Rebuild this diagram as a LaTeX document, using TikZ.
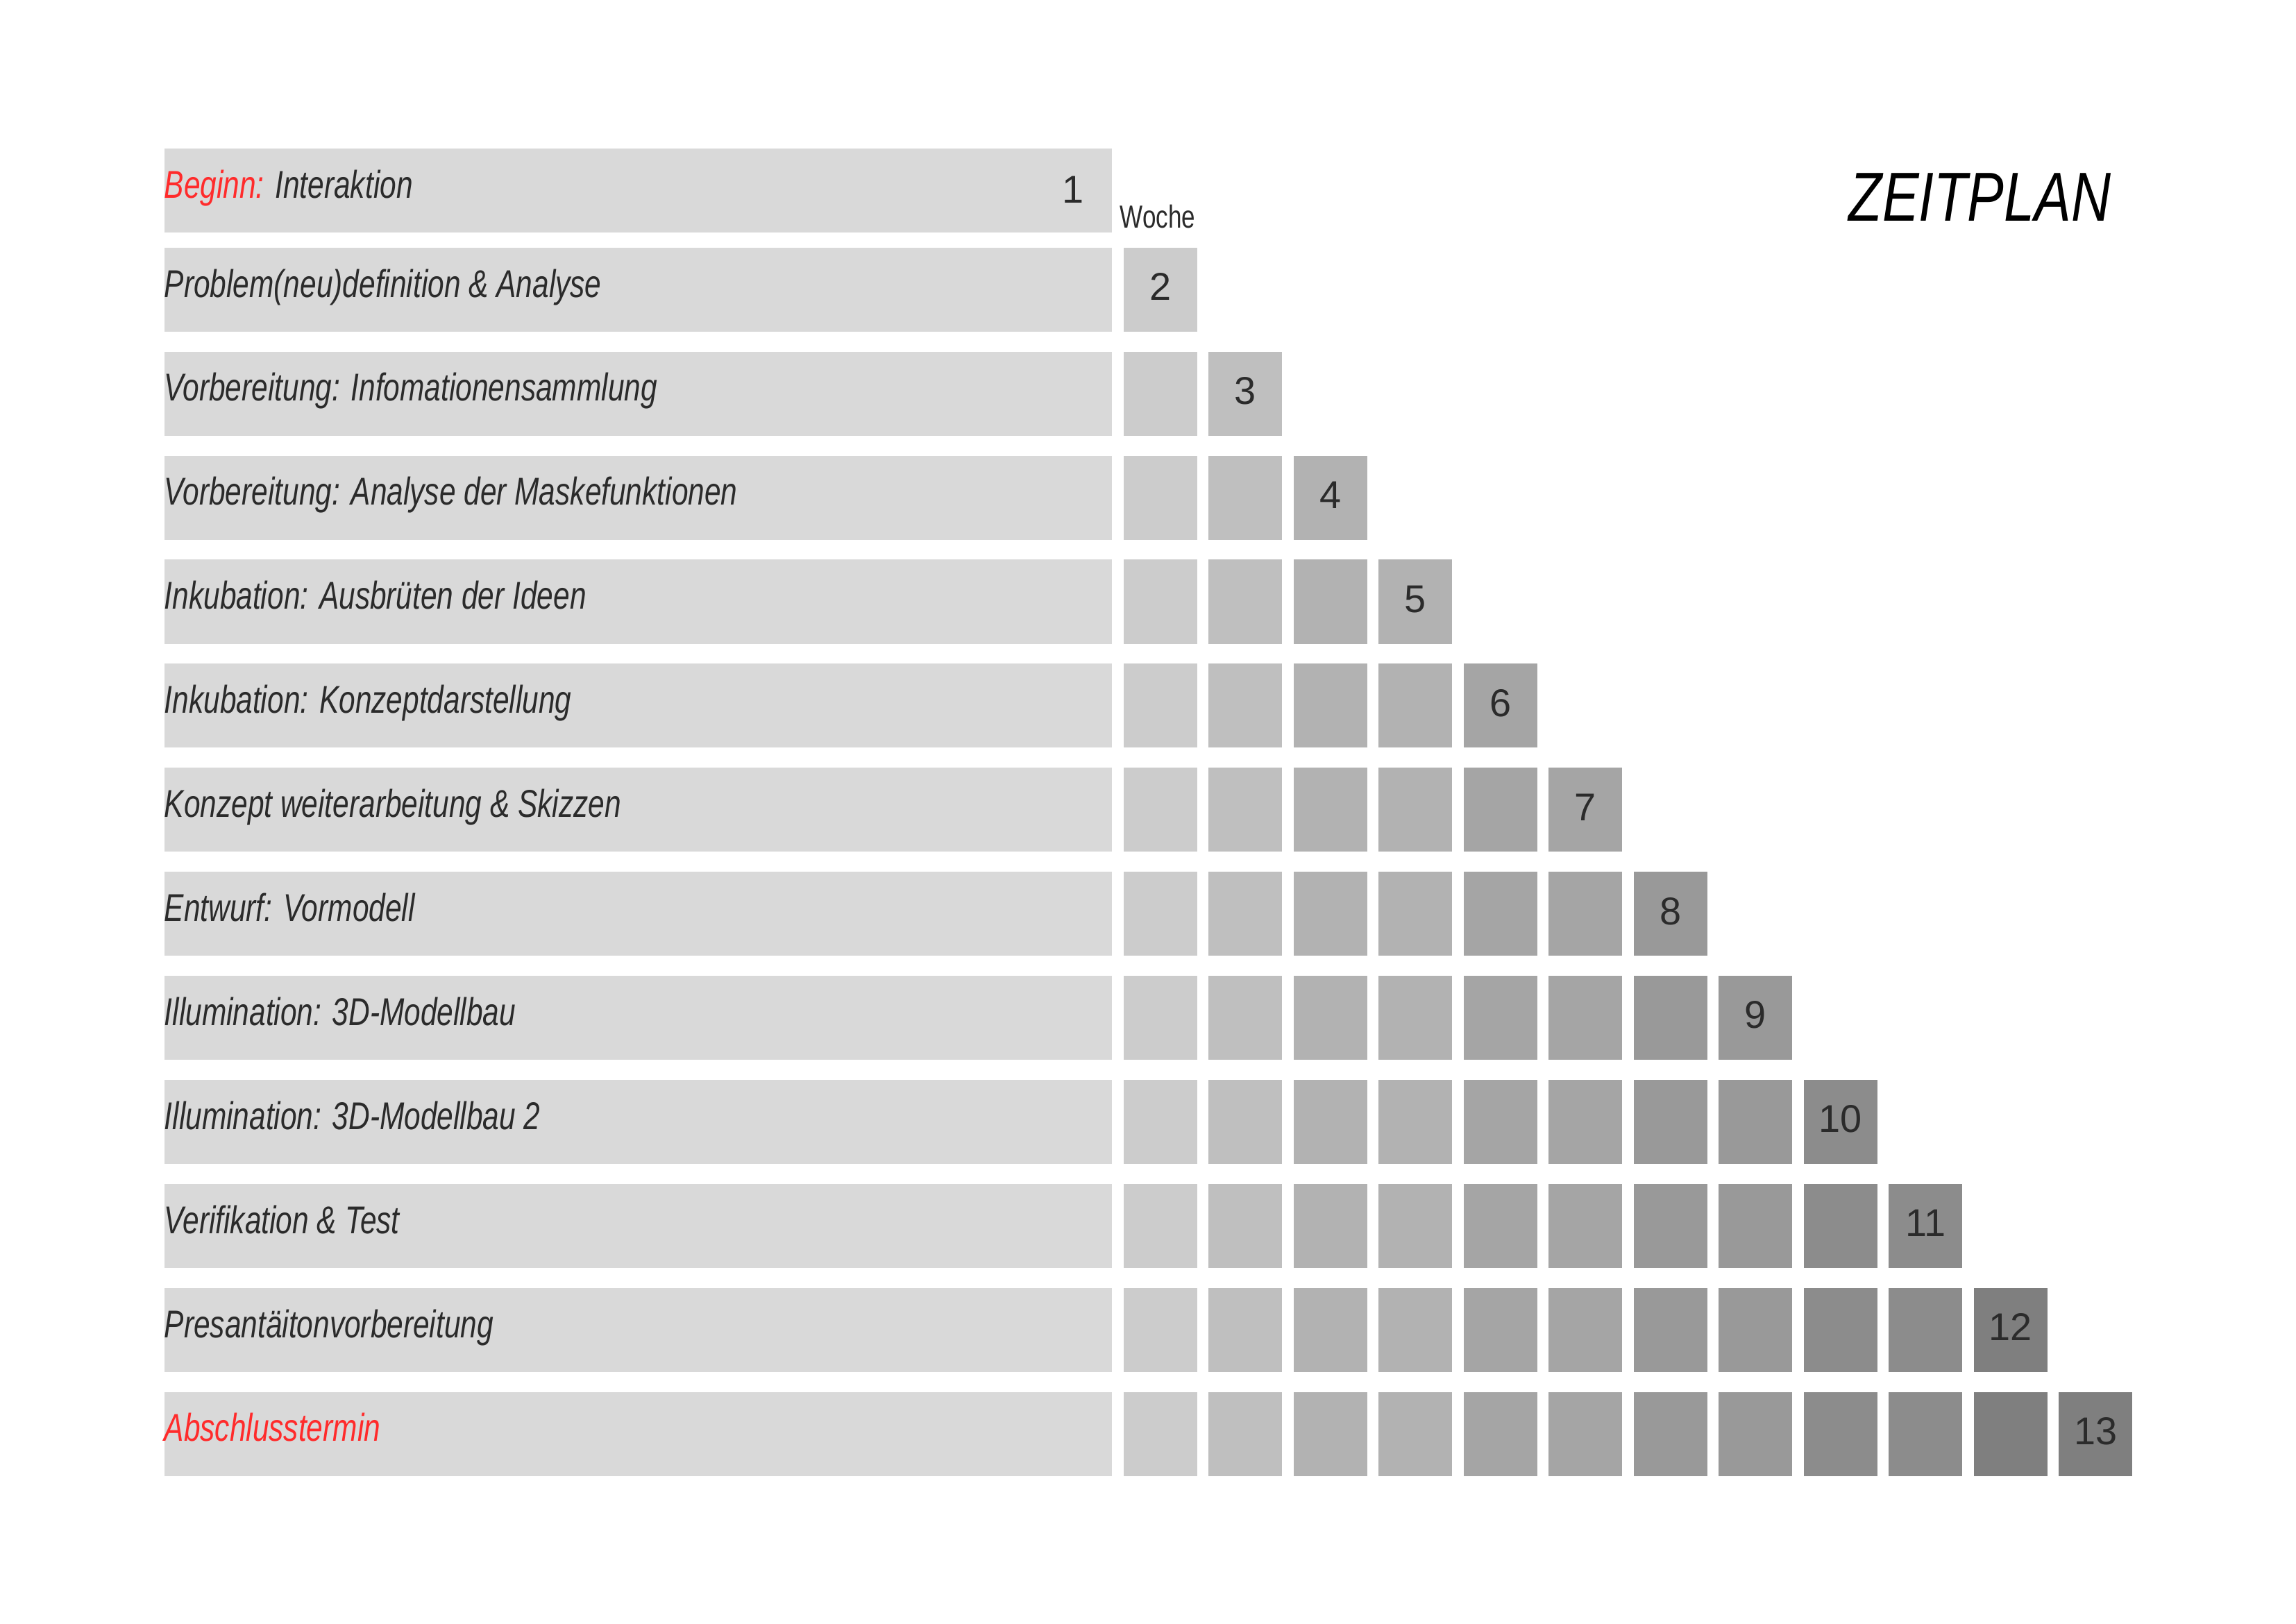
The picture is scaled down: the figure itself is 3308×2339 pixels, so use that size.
\documentclass[tikz,border=0pt]{standalone}
\usepackage{fontspec}
\setmainfont{Liberation Sans}
\newfontfamily\taskfont[FakeStretch=0.76]{Liberation Sans}
\newfontfamily\titlefont[FakeStretch=0.79]{Liberation Sans}
\definecolor{barfill}{HTML}{D9D9D9}
\definecolor{inkdark}{HTML}{2B2B2B}
\definecolor{markred}{HTML}{FF2B2B}
% shades of the week columns
\definecolor{week2}{HTML}{CCCCCC}
\definecolor{week3}{HTML}{BFBFBF}
\definecolor{week4}{HTML}{B2B2B2}
\definecolor{week5}{HTML}{B2B2B2}
\definecolor{week6}{HTML}{A5A5A5}
\definecolor{week7}{HTML}{A5A5A5}
\definecolor{week8}{HTML}{999999}
\definecolor{week9}{HTML}{999999}
\definecolor{week10}{HTML}{8C8C8C}
\definecolor{week11}{HTML}{8C8C8C}
\definecolor{week12}{HTML}{7F7F7F}
\definecolor{week13}{HTML}{7F7F7F}
\tikzset{
  taskbar/.style={anchor=north west,inner sep=0pt,fill=barfill,
    minimum width=122.85mm,minimum height=10.89mm},
  tasklabel/.style={anchor=base west,inner sep=0pt,text=inkdark,
    font=\taskfont\itshape\fontsize{14.3}{16}\selectfont},
  weekbox/.style={anchor=north west,inner sep=0pt,
    minimum width=9.54mm,minimum height=10.89mm},
  weeknum/.style={inner sep=0pt,text=inkdark,font=\fontsize{14.3}{16}\selectfont},
}

\begin{document}
\begin{tikzpicture}[x=0.09mm,y=-0.09mm]
        \useasboundingbox (0,0) rectangle (3308,2339);
        % first row
        \node[taskbar] (bar1) at (236,213) {};
        \node[tasklabel] (task1) at (236,285) {\textcolor{markred}{Beginn:} Interaktion};
        \node[weeknum] (num1) at (1546,273) {1};
        \node[anchor=base west,inner sep=0pt,text=inkdark,
          font=\taskfont\fontsize{11.8}{13}\selectfont] (woche) at (1613,328) {Woche};
        \node[anchor=base west,inner sep=0pt,text=black,
          font=\titlefont\itshape\fontsize{25.6}{28}\selectfont] (title) at (2663,318) {ZEITPLAN};
        % remaining rows
        \foreach \r/\txt in {2/{Problem(neu)definition \& Analyse},
            3/{Vorbereitung: Infomationensammlung},
            4/{Vorbereitung: Analyse der Maskefunktionen},
            5/{Inkubation: Ausbrüten der Ideen},
            6/{Inkubation: Konzeptdarstellung},
            7/{Konzept weiterarbeitung \& Skizzen},
            8/{Entwurf: Vormodell},
            9/{Illumination: 3D-Modellbau},
            10/{Illumination: 3D-Modellbau 2},
            11/{Verifikation \& Test},
            12/{Presantäitonvorbereitung},
            13/{\textcolor{markred}{Abschlusstermin}}}{
          \pgfmathsetmacro\rowtop{356+(\r-2)*149.9}
          \node[taskbar] (bar\r) at (236,\rowtop) {};
          \node[tasklabel] (task\r) at (236,\rowtop+72) {\txt};
          \foreach \c in {2,...,\r}{
            \node[weekbox,fill=week\c] (wk-\r-\c) at ({1618+(\c-2)*122.5},\rowtop) {};
          }
          \node[weeknum] (num\r) at ([yshift=0.35mm]wk-\r-\r.center) {\r};
        }
      \end{tikzpicture}
\end{document}
